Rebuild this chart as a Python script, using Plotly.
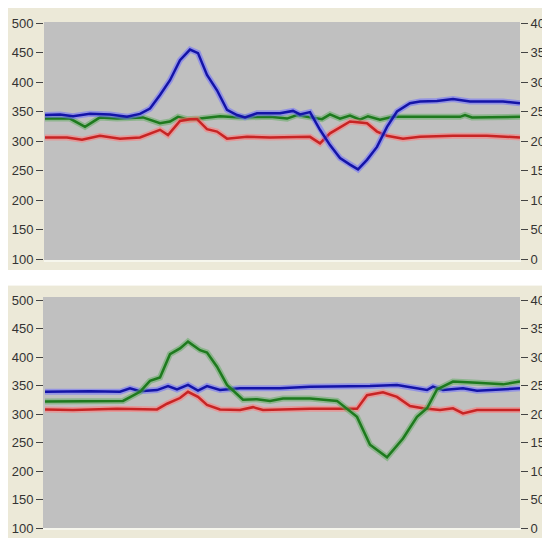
import plotly.graph_objects as go

# ---------------- data (x = sample position, y = left-axis value) ----------------
top_blue_x = [1,16,29,46,66,83,96,106,116,126,136,146,154,163,173,183,193,201,213,236,249,256,266,276,286,296,306,314,323,333,343,353,366,376,393,409,426,459,476]
top_blue_y = [344,345,342,346,345,341,346,355,378,403,437,455,449,412,386,353,344,340,347,347,351,345,349,319,293,271,260,252,268,290,324,350,364,367,368,371,367,367,364]

top_green_x = [1,26,41,56,73,99,116,126,134,143,156,176,196,226,243,253,263,278,286,296,306,316,324,336,349,416,421,428,476]
top_green_y = [338,338,324,340,338,340,330,333,341,337,338,342,340,341,338,344,341,337,345,338,343,336,342,336,341,341,344,340,341]

top_red_x = [1,23,38,56,76,96,116,124,136,146,153,163,173,183,203,226,266,276,286,306,323,333,343,359,376,409,443,476]
top_red_y = [306,306,302,309,304,306,319,310,334,337,337,320,316,304,307,306,307,296,313,333,330,316,309,304,307,309,309,306]

bot_blue_x = [1,46,76,86,96,113,124,133,144,154,163,176,196,236,266,326,353,366,383,389,399,419,433,476]
bot_blue_y = [339,340,339,345,340,342,349,343,351,341,349,342,345,345,348,349,351,347,342,348,342,345,341,345]

bot_green_x = [1,46,79,96,106,116,126,136,144,156,163,173,183,199,213,226,239,266,293,313,326,343,359,373,383,393,409,433,459,476]
bot_green_y = [322,323,323,339,358,364,405,415,427,412,408,383,351,325,326,323,327,327,323,295,246,224,257,295,310,343,357,355,352,357]

bot_red_x = [1,29,73,113,123,136,144,154,163,176,196,209,219,236,266,313,323,339,353,366,379,396,409,419,433,476]
bot_red_y = [308,307,309,308,318,328,339,330,316,308,307,312,307,308,309,309,333,338,330,314,310,307,310,301,307,307]

left_ticks = [100, 150, 200, 250, 300, 350, 400, 450, 500]
right_ticks = [0, 50, 100, 150, 200, 250, 300, 350, 400]

# ---------------- styling ----------------
# the page body has an 8 px margin, so the figure is laid out 8 px smaller
OFF = 8
W, H = 550 - OFF, 538 - OFF
BEIGE = "#ECE9D8"
GRAY = "#C0C0C0"
FONT = dict(family="Liberation Sans Narrow, Liberation Sans, Arial, sans-serif",
            size=13, color="#333333")
COLORS = {"blue": ("#1414A8", "rgba(110,110,255,0.55)"),
          "green": ("#1E7A1E", "rgba(90,170,90,0.5)"),
          "red": ("#C82424", "rgba(255,120,120,0.55)")}

def px(x):
    """window pixel x -> paper fraction"""
    return max(0.0, (x - OFF) / W)

def py(y):
    """window pixel y -> paper fraction"""
    return min(1.0, 1 - (y - OFF) / H)

fig = go.Figure()

def add_series(x, y, color, xa, ya):
    core, halo = COLORS[color]
    fig.add_trace(go.Scatter(x=x, y=y, mode="lines", xaxis=xa, yaxis=ya,
                             line=dict(color=halo, width=6), hoverinfo="skip", showlegend=False))
    fig.add_trace(go.Scatter(x=x, y=y, mode="lines", xaxis=xa, yaxis=ya,
                             line=dict(color=core, width=2.5), showlegend=False))

add_series(top_green_x, top_green_y, "green", "x", "y")
add_series(top_red_x, top_red_y, "red", "x", "y")
add_series(top_blue_x, top_blue_y, "blue", "x", "y")
add_series(bot_red_x, bot_red_y, "red", "x2", "y3")
add_series(bot_blue_x, bot_blue_y, "blue", "x2", "y3")
add_series(bot_green_x, bot_green_y, "green", "x2", "y3")

fig.add_trace(go.Scatter(x=[None], y=[None], xaxis="x", yaxis="y2", showlegend=False, hoverinfo="skip"))
fig.add_trace(go.Scatter(x=[None], y=[None], xaxis="x2", yaxis="y4", showlegend=False, hoverinfo="skip"))

xdom = [px(44), px(520)]
top_dom = [py(259), py(23)]
bot_dom = [py(528), py(297)]
bot_top = 500 + 3 / 0.57

tick_common = dict(ticks="outside", ticklen=7, tickcolor="#444444", tickwidth=1,
                   showgrid=False, zeroline=False, showline=False, tickfont=FONT,
                   fixedrange=True, automargin=False)

fig.update_layout(
    width=W, height=H,
    margin=dict(l=0, r=0, t=0, b=0),
    paper_bgcolor="white",
    plot_bgcolor="rgba(0,0,0,0)",
    showlegend=False,
    xaxis=dict(domain=xdom, range=[0, 476], visible=False, anchor="y"),
    xaxis2=dict(domain=xdom, range=[0, 476], visible=False, anchor="y3"),
    yaxis=dict(domain=top_dom, range=[100, 500], tickvals=left_ticks, anchor="x", side="left",
               **tick_common),
    yaxis2=dict(range=[0, 400], tickvals=right_ticks, overlaying="y", side="right", anchor="x",
                **tick_common),
    yaxis3=dict(domain=bot_dom, range=[100, bot_top], tickvals=left_ticks, anchor="x2", side="left",
                **tick_common),
    yaxis4=dict(range=[0, bot_top - 100], tickvals=right_ticks, overlaying="y3", side="right",
                anchor="x2", **tick_common),
    shapes=[
        # beige panel frames
        dict(type="rect", xref="paper", yref="paper", x0=px(7), x1=1.0, y0=py(270), y1=py(8),
             fillcolor=BEIGE, line=dict(width=0), layer="below"),
        dict(type="rect", xref="paper", yref="paper", x0=px(7), x1=1.0, y0=py(538), y1=py(285),
             fillcolor=BEIGE, line=dict(width=0), layer="below"),
        dict(type="line", xref="paper", yref="paper", x0=px(7), x1=1.0, y0=py(285.5), y1=py(285.5),
             line=dict(color="#F7F6EF", width=1), layer="below"),
        # gray plot areas
        dict(type="rect", xref="paper", yref="paper", x0=px(44), x1=px(520), y0=py(260), y1=py(22),
             fillcolor=GRAY, line=dict(width=0), layer="below"),
        dict(type="rect", xref="paper", yref="paper", x0=px(43), x1=px(520), y0=py(528), y1=py(297),
             fillcolor=GRAY, line=dict(width=0), layer="below"),
        # light inset edges below the plot areas
        dict(type="line", xref="paper", yref="paper", x0=px(44), x1=px(521), y0=py(261), y1=py(261),
             line=dict(color="#FAFAF5", width=1.5), layer="below"),
        dict(type="line", xref="paper", yref="paper", x0=px(43), x1=px(521), y0=py(529), y1=py(529),
             line=dict(color="#FAFAF5", width=1.5), layer="below"),
    ],
)

fig.write_html("out.html")
